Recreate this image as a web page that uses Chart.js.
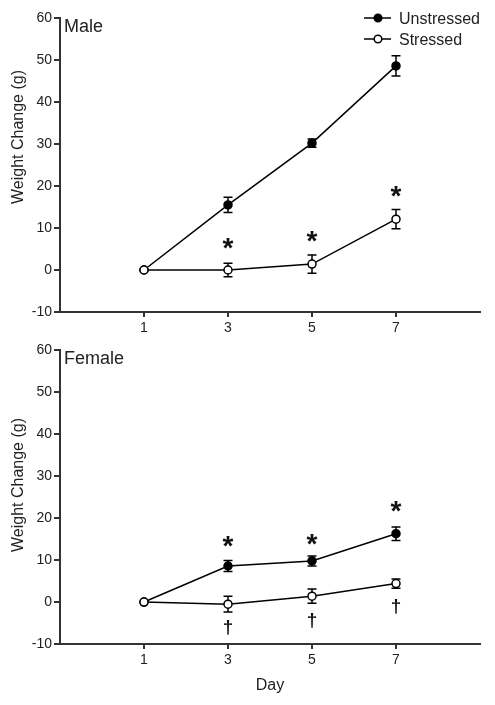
<!DOCTYPE html>
<html><head><meta charset="utf-8">
<script src="https://cdn.jsdelivr.net/npm/chart.js@4"></script>
<style>
html,body{margin:0;padding:0;background:#fff;}
#wrap{position:relative;width:495px;height:705px;background:#fff;}
.box{position:absolute;left:0;width:495px;}
</style></head><body>
<div id="wrap">
<div class="box" style="top:0;height:340px"><canvas id="c1"></canvas></div>
<div class="box" style="top:340px;height:365px"><canvas id="c2"></canvas></div>
</div>
<script>
// ---- data ----
const days = [1, 3, 5, 7];
const seriesNames = ['Unstressed', 'Stressed'];
const maleUnstressed = [0, 15.5, 30.2, 48.6];
const maleUnstressedErr = [0, 1.8, 1.0, 2.4];
const maleStressed = [0, 0, 1.4, 12.1];
const maleStressedErr = [0, 1.6, 2.2, 2.3];
const femaleUnstressed = [0, 8.6, 9.8, 16.3];
const femaleUnstressedErr = [0, 1.3, 1.2, 1.6];
const femaleStressed = [0, -0.5, 1.4, 4.4];
const femaleStressedErr = [0, 1.9, 1.7, 1.1];
const sigDays = [3, 5, 7];
const maleStarY = [6.4, 7.9, 18.6];
const femaleStarY = [14.4, 15.0, 22.7];
const femaleDaggerY = [-6.0, -4.5, -1.1];

const FONT = "'Liberation Sans', Arial, Helvetica, sans-serif";
const TXT = '#222';
const AX = '#333';

function pts(vals) { return days.map((d, i) => ({ x: d, y: vals[i] })); }

function drawCentered(ctx, text, x, cy, font) {
  ctx.font = font;
  const m = ctx.measureText(text);
  const base = cy - (m.actualBoundingBoxDescent - m.actualBoundingBoxAscent) / 2;
  ctx.textAlign = 'center';
  ctx.textBaseline = 'alphabetic';
  ctx.fillText(text, x, base);
}

const annot = {
  id: 'annot',
  beforeDatasetsDraw(chart) {
    const ctx = chart.ctx, xs = chart.scales.x, ys = chart.scales.y;
    ctx.save();
    ctx.strokeStyle = '#000';
    ctx.lineWidth = 1.5;
    chart.data.datasets.forEach(ds => {
      ds.errs.forEach((e, i) => {
        if (!e) return;
        const px = xs.getPixelForValue(days[i]);
        const y1 = ys.getPixelForValue(ds.vals[i] + e);
        const y2 = ys.getPixelForValue(ds.vals[i] - e);
        ctx.beginPath();
        ctx.moveTo(px, y1); ctx.lineTo(px, y2);
        ctx.moveTo(px - 4.5, y1); ctx.lineTo(px + 4.5, y1);
        ctx.moveTo(px - 4.5, y2); ctx.lineTo(px + 4.5, y2);
        ctx.stroke();
      });
    });
    ctx.restore();
  },
  afterDraw(chart) {
    const o = chart.options.plugins.annot;
    const ctx = chart.ctx, xs = chart.scales.x, ys = chart.scales.y, ca = chart.chartArea;
    ctx.save();
    ctx.fillStyle = TXT;
    // panel label
    ctx.font = '18px ' + FONT;
    ctx.textAlign = 'left'; ctx.textBaseline = 'alphabetic';
    ctx.fillText(o.panel, ca.left + 4, ca.top + 14);
    // y title
    ctx.save();
    ctx.translate(23, o.yTitleCenter);
    ctx.rotate(-Math.PI / 2);
    ctx.font = '16px ' + FONT;
    ctx.textAlign = 'center'; ctx.textBaseline = 'alphabetic';
    ctx.fillText('Weight Change (g)', 0, 0);
    ctx.restore();
    // stars
    ctx.fillStyle = '#111';
    (o.stars || []).forEach((v, i) => {
      drawCentered(ctx, '*', xs.getPixelForValue(sigDays[i]), ys.getPixelForValue(v), 'bold 28px ' + FONT);
    });
    (o.daggers || []).forEach((v, i) => {
      drawCentered(ctx, '\u2020', xs.getPixelForValue(sigDays[i]), ys.getPixelForValue(v), 'bold 19px ' + FONT);
    });
    ctx.fillStyle = TXT;
    // legend
    if (o.legend) {
      const rows = [18, 39];
      chart.data.datasets.slice().reverse().forEach((ds, k) => {
        const y = rows[k];
        ctx.strokeStyle = '#000'; ctx.lineWidth = 1.5;
        ctx.beginPath(); ctx.moveTo(364, y); ctx.lineTo(391, y); ctx.stroke();
        ctx.beginPath(); ctx.arc(378, y, 3.8, 0, Math.PI * 2);
        ctx.fillStyle = ds.pointBackgroundColor; ctx.fill(); ctx.stroke();
        ctx.fillStyle = TXT;
        ctx.font = '16px ' + FONT;
        ctx.textAlign = 'left'; ctx.textBaseline = 'alphabetic';
        ctx.fillText(ds.label, 399, y + 6);
      });
    }
    if (o.dayLabel) {
      ctx.font = '16px ' + FONT;
      ctx.textAlign = 'center'; ctx.textBaseline = 'alphabetic';
      ctx.fillText('Day', (ca.left + ca.right) / 2, o.dayLabel);
    }
    ctx.restore();
  }
};

function makeChart(id, uns, unsErr, str, strErr, padTop, xHeight, annotOpts) {
  return new Chart(document.getElementById(id), {
    type: 'line',
    data: {
      datasets: [
        { label: seriesNames[1], data: pts(str), vals: str, errs: strErr,
          borderColor: '#000', borderWidth: 1.5, pointRadius: 4, pointBorderWidth: 1.5,
          pointBackgroundColor: '#fff', pointBorderColor: '#000', tension: 0, fill: false },
        { label: seriesNames[0], data: pts(uns), vals: uns, errs: unsErr,
          borderColor: '#000', borderWidth: 1.5, pointRadius: 4, pointBorderWidth: 1.5,
          pointBackgroundColor: '#000', pointBorderColor: '#000', tension: 0, fill: false }
      ]
    },
    options: {
      responsive: true, maintainAspectRatio: false, animation: false,
      layout: { padding: { top: padTop, right: 15, left: 0, bottom: 0 } },
      plugins: { legend: { display: false }, tooltip: { enabled: false }, annot: annotOpts },
      scales: {
        x: {
          type: 'linear', min: -1, max: 9,
          afterBuildTicks: s => { s.ticks = days.map(v => ({ value: v })); },
          afterFit: s => { s.height = xHeight; },
          ticks: { color: TXT, font: { family: FONT, size: 14 }, padding: 3, maxRotation: 0 },
          grid: { drawOnChartArea: false, drawTicks: true, tickLength: 5, color: AX, lineWidth: 2 },
          border: { display: true, color: AX, width: 2 }
        },
        y: {
          min: -10, max: 60,
          afterFit: s => { s.width = 60; },
          ticks: { stepSize: 10, color: TXT, font: { family: FONT, size: 14 }, padding: 2 },
          grid: { drawOnChartArea: false, drawTicks: true, tickLength: 6, color: AX, lineWidth: 2 },
          border: { display: true, color: AX, width: 2 }
        }
      }
    },
    plugins: [annot]
  });
}

makeChart('c1', maleUnstressed, maleUnstressedErr, maleStressed, maleStressedErr, 18, 28,
  { panel: 'Male', yTitleCenter: 137, stars: maleStarY, legend: true });
makeChart('c2', femaleUnstressed, femaleUnstressedErr, femaleStressed, femaleStressedErr, 10, 61,
  { panel: 'Female', yTitleCenter: 145, stars: femaleStarY, daggers: femaleDaggerY, dayLabel: 350 });
</script>
</body></html>
